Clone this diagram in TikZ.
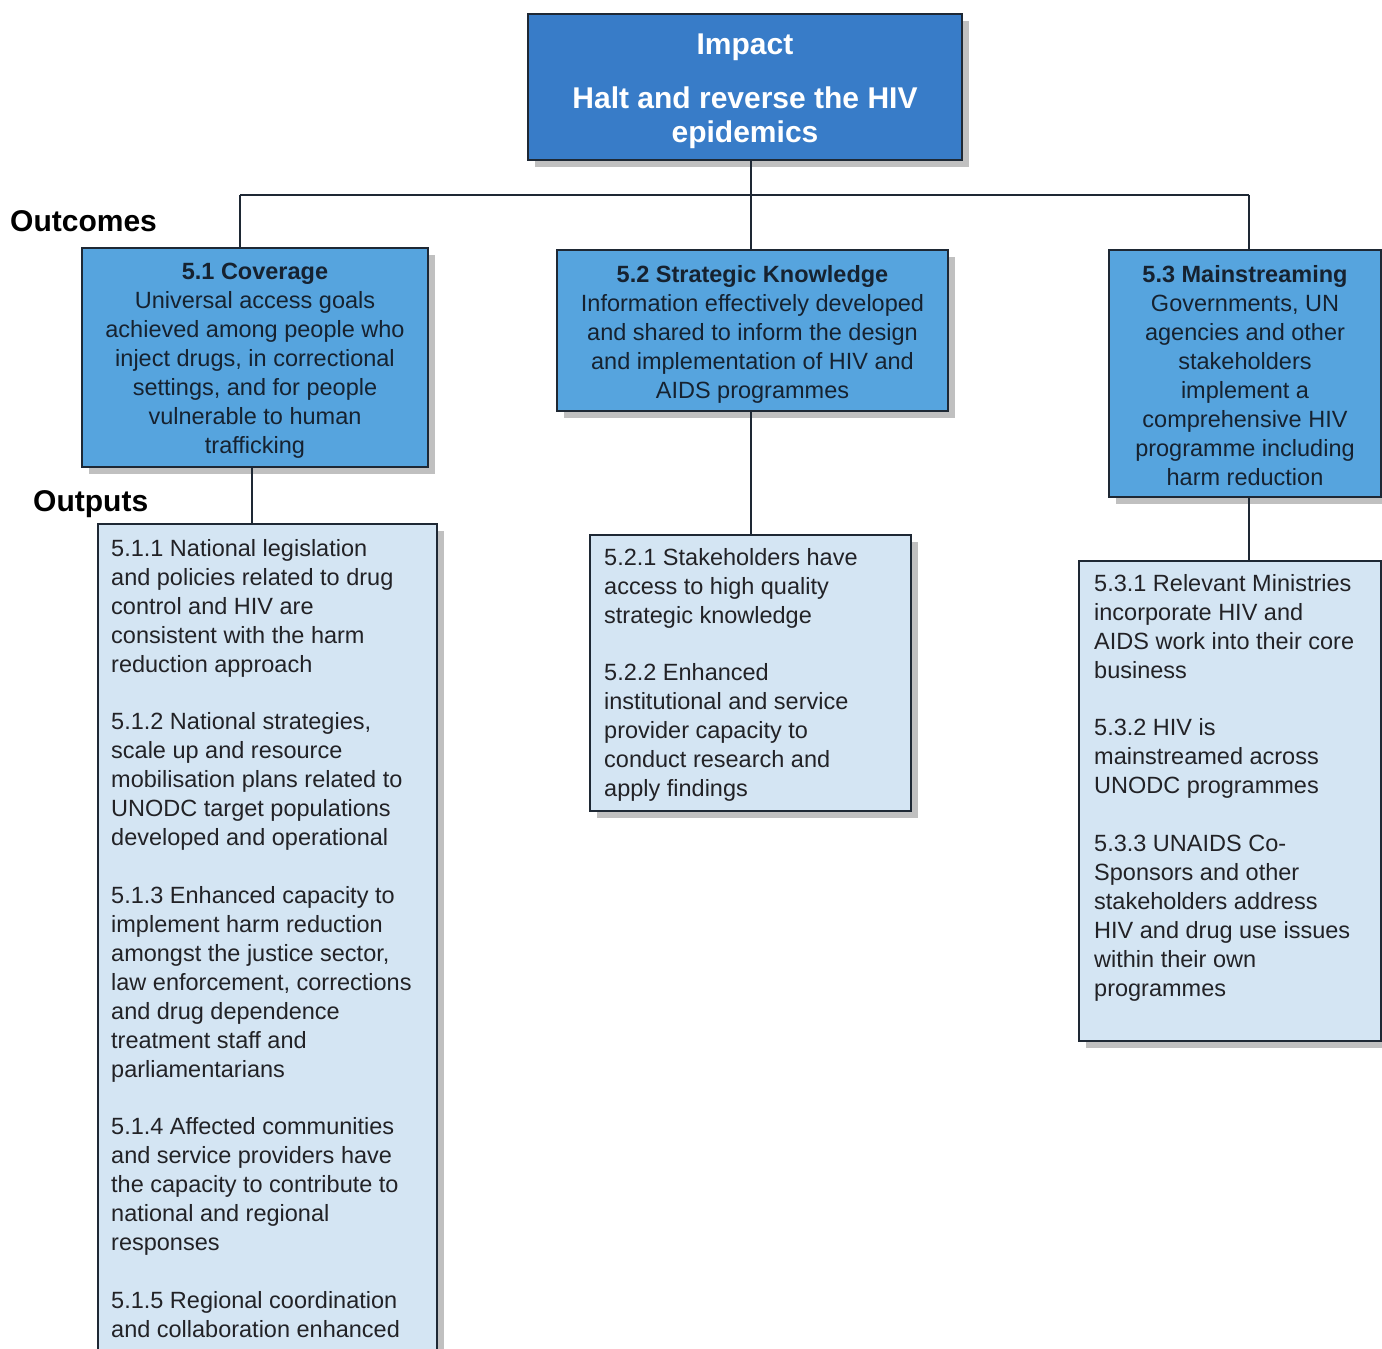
\documentclass[tikz,border=0pt]{standalone}
\usepackage{fontspec}
\setmainfont{Liberation Sans}
\usetikzlibrary{shadows}
\definecolor{impactblue}{RGB}{56,124,200}
\definecolor{outcomeblue}{RGB}{86,164,222}
\definecolor{outputblue}{RGB}{212,229,243}
\definecolor{edgeline}{RGB}{30,40,52}
\definecolor{outcometext}{RGB}{22,34,48}
\definecolor{outputtext}{RGB}{34,34,38}
% strut that lowers the first line of a centred box slightly
\newcommand{\toplift}[1]{\rule{0pt}{#1}}
\begin{document}
\begin{tikzpicture}[x=1pt,y=-1pt,
  boxshadow/.style={drop shadow={shadow xshift=7pt,shadow yshift=-7pt,fill=black!35,opacity=0.7}},
  impactbox/.style={draw=edgeline,line width=1.6pt,fill=impactblue,boxshadow,
    text=white,align=center,inner sep=0pt,
    font=\bfseries\fontsize{30}{34}\selectfont},
  outcomebox/.style={draw=edgeline,line width=1.6pt,fill=outcomeblue,boxshadow,
    text=outcometext,align=center,inner sep=0pt,
    font=\fontsize{23.5}{29}\selectfont},
  outputbox/.style={draw=edgeline,line width=1.6pt,fill=outputblue,boxshadow,
    inner sep=0pt,anchor=north west},
  outputtxt/.style={text=outputtext,align=left,inner sep=0pt,anchor=north west,
    font=\fontsize{23.5}{29}\selectfont},
  levellabel/.style={font=\bfseries\fontsize{30}{34}\selectfont,anchor=base west,inner sep=0pt},
  link/.style={draw=edgeline,line width=1.8pt}
]
\clip (0,0) rectangle (1382,1349);
\fill[white] (0,0) rectangle (1382,1349);

% junction points of the tree connectors
\coordinate (busL) at (240,195);
\coordinate (busM) at (751,195);
\coordinate (busR) at (1249,195);
\coordinate (dropL) at (252,0);
\coordinate (dropM) at (751,0);
\coordinate (dropR) at (1249,0);

% horizontal bus (drawn first so the boxes sit on top)
\draw[link] (busL) -- (busR);

% impact
\node[impactbox,minimum width=434pt,minimum height=146pt] (imp) at (745,87)
  {\toplift{29pt}Impact\\[20pt]Halt and reverse the HIV\\epidemics};

% outcomes
\node[outcomebox,minimum width=346pt,minimum height=219pt] (oc1) at (255,357.5)
  {\toplift{23.5pt}\textbf{5.1 Coverage}\\Universal access goals\\achieved among people who\\inject drugs, in correctional\\settings, and for people\\vulnerable to human\\trafficking};
\node[outcomebox,minimum width=391pt,minimum height=161pt] (oc2) at (752.5,330.5)
  {\toplift{24.5pt}\textbf{5.2 Strategic Knowledge}\\Information effectively developed\\and shared to inform the design\\and implementation of HIV and\\AIDS programmes};
\node[outcomebox,minimum width=272pt,minimum height=247pt] (oc3) at (1245,373.5)
  {\toplift{22pt}\textbf{5.3 Mainstreaming}\\Governments, UN\\agencies and other\\stakeholders\\implement a\\comprehensive HIV\\programme including\\harm reduction};

% outputs
\node[outputbox,minimum width=339pt,minimum height=900pt] (out1) at (97,523) {};
\node[outputbox,minimum width=321pt,minimum height=276pt] (out2) at (589,534) {};
\node[outputbox,minimum width=302pt,minimum height=480pt] (out3) at (1078,560) {};

\node[outputtxt] (t1) at ([shift={(14,16)}]out1.north west)
  {5.1.1 National legislation\\and policies related to drug\\control and HIV are\\consistent with the harm\\reduction approach\\[28.5pt]
   5.1.2 National strategies,\\scale up and resource\\mobilisation plans related to\\UNODC target populations\\developed and operational\\[28.5pt]
   5.1.3 Enhanced capacity to\\implement harm reduction\\amongst the justice sector,\\law enforcement, corrections\\and drug dependence\\treatment staff and\\parliamentarians\\[28.5pt]
   5.1.4 Affected communities\\and service providers have\\the capacity to contribute to\\national and regional\\responses\\[28.5pt]
   5.1.5 Regional coordination\\and collaboration enhanced};
\node[outputtxt] (t2) at ([shift={(15,14)}]out2.north west)
  {5.2.1 Stakeholders have\\access to high quality\\strategic knowledge\\[28.5pt]
   5.2.2 Enhanced\\institutional and service\\provider capacity to\\conduct research and\\apply findings};
\node[outputtxt] (t3) at ([shift={(16,14)}]out3.north west)
  {5.3.1 Relevant Ministries\\incorporate HIV and\\AIDS work into their core\\business\\[28.5pt]
   5.3.2 HIV is\\mainstreamed across\\UNODC programmes\\[28.5pt]
   5.3.3 UNAIDS Co-\\Sponsors and other\\stakeholders address\\HIV and drug use issues\\within their own\\programmes};

% level labels
\node[levellabel] (lblOutcomes) at (10,231) {Outcomes};
\node[levellabel] (lblOutputs) at (33,511) {Outputs};

% tree connectors
\draw[link] (imp.south -| busM) -- (busM);
\draw[link] (busL) -- (oc1.north -| busL);
\draw[link] (busM) -- (oc2.north -| busM);
\draw[link] (busR) -- (oc3.north -| busR);
\draw[link] (oc1.south -| dropL) -- (out1.north -| dropL);
\draw[link] (oc2.south -| dropM) -- (out2.north -| dropM);
\draw[link] (oc3.south -| dropR) -- (out3.north -| dropR);
\end{tikzpicture}
\end{document}
